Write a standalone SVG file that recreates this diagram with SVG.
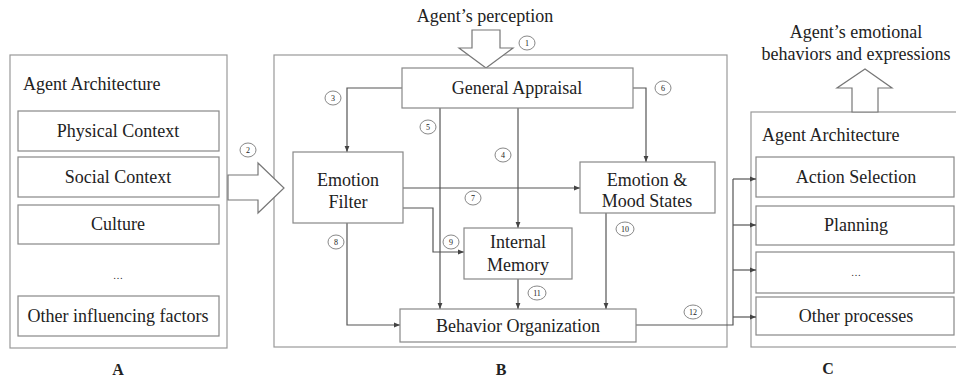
<svg xmlns="http://www.w3.org/2000/svg" width="956" height="380" viewBox="0 0 956 380">
  <defs>
    <marker id="arr" viewBox="0 0 10 10" refX="10" refY="5" markerWidth="6" markerHeight="6" markerUnits="userSpaceOnUse" orient="auto">
      <path d="M0,1 L10,5 L0,9 z" fill="#444"/>
    </marker>
  </defs>
  <style>
    text { font-family: "Liberation Serif", "Times New Roman", serif; fill: #222; }
    .t { font-size: 18px; text-anchor: middle; }
    .h { font-size: 18px; }
    .lbl { font-size: 16px; text-anchor: middle; font-weight: bold; }
    .box { fill: #fff; stroke: #888; stroke-width: 1.2; }
    .panel { fill: #fff; stroke: #999; stroke-width: 1.2; }
    .big { fill: #fff; stroke: #777; stroke-width: 1.2; }
    .ln { fill: none; stroke: #555; stroke-width: 1.2; }
    .ln-a { fill: none; stroke: #555; stroke-width: 1.2; marker-end: url(#arr); }
    .num ellipse { fill: #fff; stroke: #888; stroke-width: 1; }
    .num text { font-size: 8px; text-anchor: middle; }
  </style>
  <rect width="956" height="380" fill="#fff"/>

  <!-- Panel A: influencing factors -->
  <g id="panelA">
    <rect class="panel" x="10" y="55" width="217" height="293"/>
    <text class="h" x="23" y="90">Agent Architecture</text>
  </g>
  <g id="physical">
    <rect class="box" x="18" y="111" width="201" height="40"/>
    <text class="t" x="118" y="137">Physical Context</text>
  </g>
  <g id="social">
    <rect class="box" x="18" y="157" width="201" height="40"/>
    <text class="t" x="118" y="183">Social Context</text>
  </g>
  <g id="culture">
    <rect class="box" x="18" y="205" width="201" height="39"/>
    <text class="t" x="118" y="230">Culture</text>
  </g>
  <g id="ellipsisA">
    <text class="t" x="118" y="279" style="font-size:10px">…</text>
  </g>
  <g id="otherFactors">
    <rect class="box" x="18" y="296" width="201" height="40"/>
    <text class="t" x="118" y="322">Other influencing factors</text>
  </g>
  <text class="lbl" x="118" y="375">A</text>

  <!-- Panel B: emotion processing -->
  <g id="panelB">
    <rect class="panel" x="274" y="55" width="453" height="292"/>
  </g>

  <!-- Panel C: agent processes -->
  <g id="panelC">
    <rect class="panel" x="751" y="112" width="210" height="235"/>
    <text class="h" x="762" y="141">Agent Architecture</text>
  </g>
  <g id="actionSelection">
    <rect class="box" x="756" y="157" width="198" height="40"/>
    <text class="t" x="856" y="183">Action Selection</text>
  </g>
  <g id="planning">
    <rect class="box" x="756" y="206" width="198" height="39"/>
    <text class="t" x="856" y="231">Planning</text>
  </g>
  <g id="ellipsisC">
    <rect class="box" x="756" y="252" width="198" height="41"/>
    <text class="t" x="856" y="276" style="font-size:10px">…</text>
  </g>
  <g id="otherProcesses">
    <rect class="box" x="756" y="297" width="198" height="38"/>
    <text class="t" x="856" y="322">Other processes</text>
  </g>
  <text class="lbl" x="828" y="374">C</text>
  <text class="lbl" x="501" y="375">B</text>

  <!-- Connectors -->
  <g id="connectors">
    <!-- perception in -->
    <path class="big" d="M472,30 L500,30 L500,48 L513,48 L486,68 L459,48 L472,48 z"/>
    <!-- A into B -->
    <path class="big" d="M228,175 L258,175 L258,163 L284,188 L258,213 L258,200 L228,200 z"/>
    <!-- C out -->
    <path class="big" d="M852,112 L852,88 L837,88 L865,69 L892,88 L878,88 L878,112 z"/>

    <path class="ln-a" d="M402,88 H347 V152"/>
    <path class="ln-a" d="M440,108 V309"/>
    <path class="ln-a" d="M518,108 V228"/>
    <path class="ln-a" d="M633,88 H646 V162"/>
    <path class="ln-a" d="M403,188 H580"/>
    <path class="ln-a" d="M403,208 H433 V252 H464"/>
    <path class="ln-a" d="M347,223 V325 H400"/>
    <path class="ln-a" d="M606,213 V309"/>
    <path class="ln-a" d="M518,279 V309"/>
    <path class="ln" d="M636,325 H733 V179"/>
    <path class="ln-a" d="M733,179 H756"/>
    <path class="ln-a" d="M733,225 H756"/>
    <path class="ln-a" d="M733,270 H756"/>
    <path class="ln-a" d="M733,317 H756"/>
  </g>

  <!-- Core processing nodes -->
  <g id="generalAppraisal">
    <rect class="box" x="402" y="68" width="231" height="40"/>
    <text class="t" x="517" y="94">General Appraisal</text>
  </g>
  <g id="emotionFilter">
    <rect class="box" x="293" y="152" width="110" height="71"/>
    <text class="t" x="348" y="186">Emotion</text>
    <text class="t" x="348" y="208">Filter</text>
  </g>
  <g id="emotionMood">
    <rect class="box" x="580" y="162" width="135" height="51"/>
    <text class="t" x="647" y="186">Emotion &amp;</text>
    <text class="t" x="647" y="207">Mood States</text>
  </g>
  <g id="internalMemory">
    <rect class="box" x="464" y="228" width="108" height="51"/>
    <text class="t" x="518" y="248">Internal</text>
    <text class="t" x="518" y="271">Memory</text>
  </g>
  <g id="behaviorOrg">
    <rect class="box" x="400" y="309" width="236" height="33"/>
    <text class="t" x="518" y="332">Behavior Organization</text>
  </g>

  <!-- Free-standing captions -->
  <text class="t" x="485" y="22">Agent’s perception</text>
  <text class="t" x="856" y="38">Agent’s emotional</text>
  <text class="t" x="856" y="60">behaviors and expressions</text>

  <!-- Step numbers -->
  <g class="num">
    <ellipse cx="527" cy="43" rx="8" ry="7"/><text x="527" y="46">1</text>
    <ellipse cx="248" cy="150" rx="8" ry="7"/><text x="248" y="153">2</text>
    <ellipse cx="333" cy="98" rx="8" ry="7"/><text x="333" y="101">3</text>
    <ellipse cx="503" cy="155" rx="8" ry="7"/><text x="503" y="158">4</text>
    <ellipse cx="428" cy="127" rx="8" ry="7"/><text x="428" y="130">5</text>
    <ellipse cx="663" cy="88" rx="8" ry="7"/><text x="663" y="91">6</text>
    <ellipse cx="473" cy="198" rx="8" ry="7"/><text x="473" y="201">7</text>
    <ellipse cx="336" cy="242" rx="8" ry="7"/><text x="336" y="245">8</text>
    <ellipse cx="451" cy="242" rx="8" ry="7"/><text x="451" y="245">9</text>
    <ellipse cx="625" cy="229" rx="9" ry="7"/><text x="625" y="232">10</text>
    <ellipse cx="537" cy="293" rx="9" ry="7"/><text x="537" y="296">11</text>
    <ellipse cx="693" cy="312" rx="9" ry="7"/><text x="693" y="315">12</text>
  </g>
</svg>
